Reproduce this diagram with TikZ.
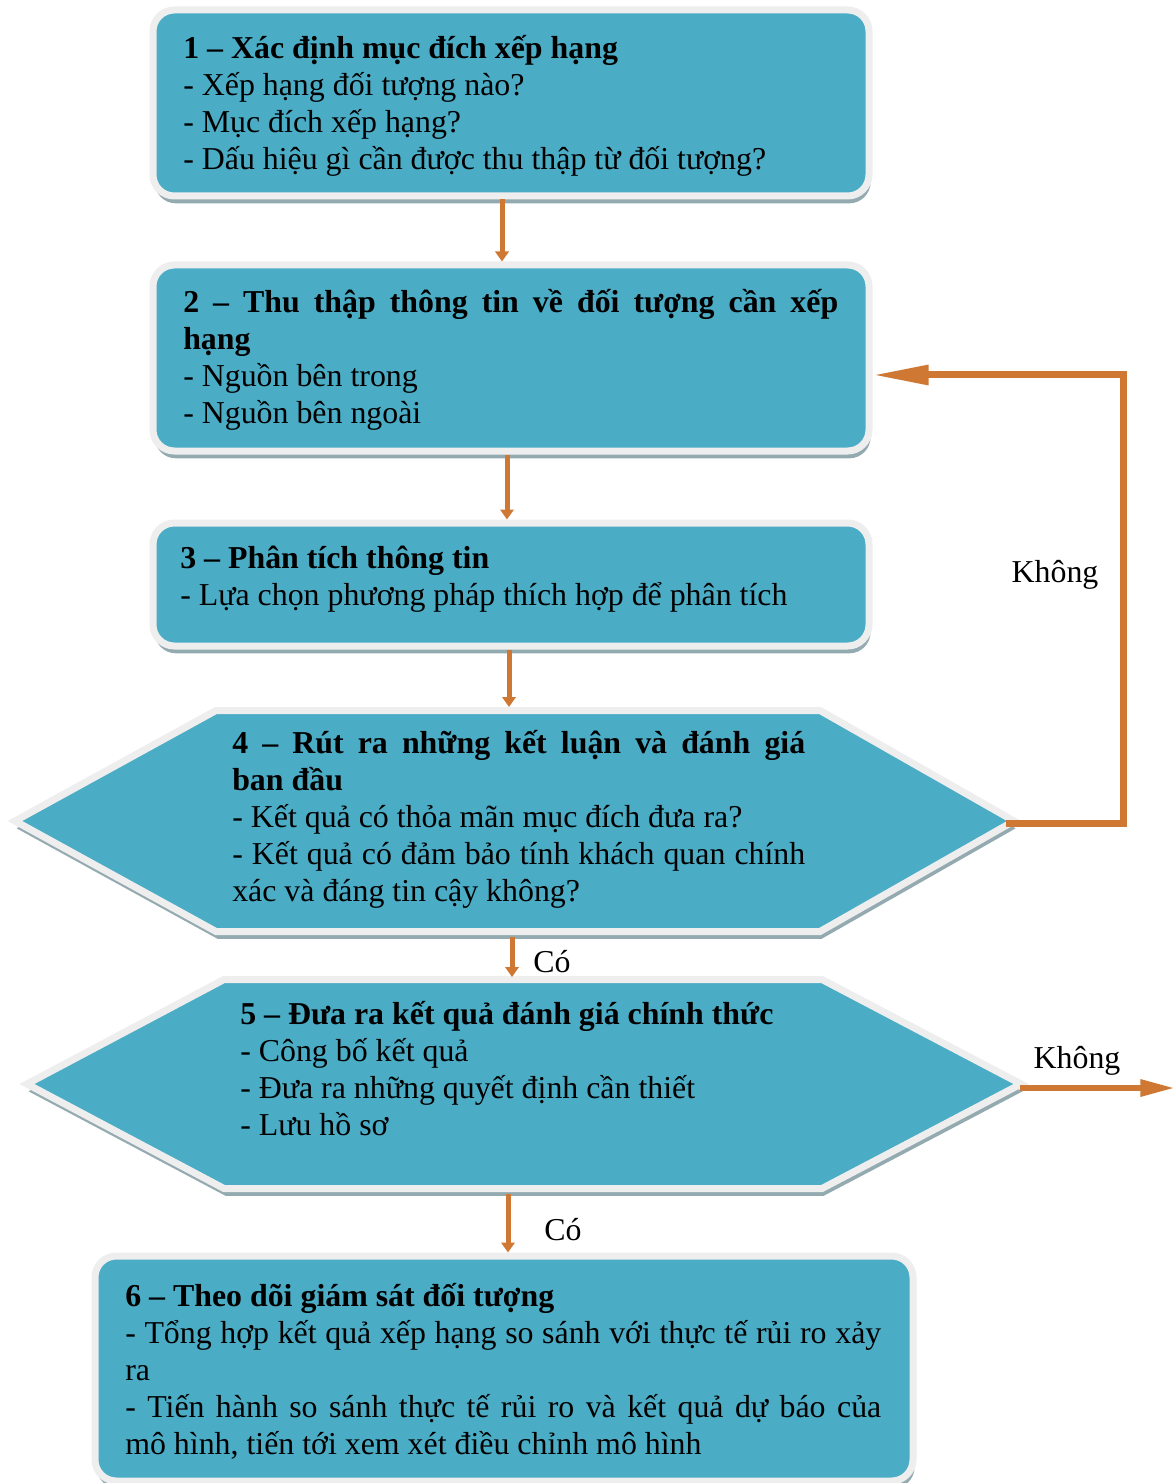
\documentclass[tikz,border=0pt]{standalone}
\usepackage{fontspec}
\setmainfont{Liberation Serif}
\usetikzlibrary{arrows.meta,shadows,calc}
\definecolor{tealf}{HTML}{4BACC6}
\definecolor{rim}{HTML}{EEEEEE}
\definecolor{shad}{HTML}{93AAB0}
\definecolor{arr}{HTML}{CF7833}
\newcommand\bxfont{\fontsize{23.9pt}{27.75pt}\selectfont\lineskiplimit=-100pt\lineskip=0pt\relax}
\newcommand\tstrut{\rule{0pt}{24pt}}
\newcommand\jl[2]{\makebox[#1][s]{#2}}
\begin{document}
\begin{tikzpicture}[x=0.75pt,y=-0.75pt,
  shadowed/.style={drop shadow={shadow xshift=1.2pt,shadow yshift=-5.5pt,fill=shad,opacity=1}},
  box/.style={draw=rim,line width=5.25pt,fill=tealf,rounded corners=16pt,inner sep=0pt,shadowed},
  hexa/.style={draw=rim,line width=5.25pt,fill=tealf,line join=miter,shadowed},
  txt/.style={anchor=north west,inner sep=0pt,font=\bxfont,align=left},
  lbl/.style={inner sep=0pt,font=\bxfont},
  down/.style={draw=arr,line width=3.75pt,-{Triangle[length=7.5pt,width=10pt]}},
  loopline/.style={draw=arr,line width=5.25pt,line join=miter,-{Triangle[length=42pt,width=14pt]}},
  exitline/.style={draw=arr,line width=4.5pt,-{Triangle[length=26pt,width=12pt]}}]
\useasboundingbox (0,0) rectangle (1175,1483);
\fill[white] (0,0) rectangle (1175,1483);

% rectangles
\node[box,minimum width=537pt,minimum height=139.5pt] (b1) at (511,103) {};
\node[box,minimum width=537pt,minimum height=139.5pt] (b2) at (511,358) {};
\node[box,minimum width=537pt,minimum height=92.25pt] (b3) at (511,584.5) {};
\node[box,minimum width=613.5pt,minimum height=168.75pt] (b6) at (504,1368.5) {};

% hexagons
\coordinate (h4L) at (15,821);   \coordinate (h4TL) at (216,710.5);
\coordinate (h4TR) at (820,710.5); \coordinate (h4R) at (1014,821);
\coordinate (h4BR) at (820,931.5); \coordinate (h4BL) at (216,931.5);
\path[hexa] (h4L) -- (h4TL) -- (h4TR) -- (h4R) -- (h4BR) -- (h4BL) -- cycle;
\coordinate (h5L) at (27,1084);   \coordinate (h5TL) at (224,979.5);
\coordinate (h5TR) at (822,979.5); \coordinate (h5R) at (1021,1084);
\coordinate (h5BR) at (822,1188.5); \coordinate (h5BL) at (224,1188.5);
\path[hexa] (h5L) -- (h5TL) -- (h5TR) -- (h5R) -- (h5BR) -- (h5BL) -- cycle;

% texts
\node[txt] (t1) at (183,26) {\tstrut\textbf{1 – Xác định mục đích xếp hạng}\\- Xếp hạng đối tượng nào?\\- Mục đích xếp hạng?\\- Dấu hiệu gì cần được thu thập từ đối tượng?};
\node[txt] (t2) at (183,280) {\tstrut\jl{491.25pt}{\textbf{2 – Thu thập thông tin về đối tượng cần xếp}}\\\textbf{hạng}\\- Nguồn bên trong\\- Nguồn bên ngoài};
\node[txt] (t3) at (180,536) {\tstrut\textbf{3 – Phân tích thông tin}\\- Lựa chọn phương pháp thích hợp để phân tích};
\node[txt] (t4) at (232,721) {\tstrut\jl{429.75pt}{\textbf{4 – Rút ra những kết luận và đánh giá}}\\\textbf{ban đầu}\\- Kết quả có thỏa mãn mục đích đưa ra?\\\jl{429.75pt}{- Kết quả có đảm bảo tính khách quan chính}\\xác và đáng tin cậy không?};
\node[txt] (t5) at (240,992) {\tstrut\textbf{5 – Đưa ra kết quả đánh giá chính thức}\\- Công bố kết quả\\- Đưa ra những quyết định cần thiết\\- Lưu hồ sơ};
\node[txt] (t6) at (125,1274) {\tstrut\textbf{6 – Theo dõi giám sát đối tượng}\\\jl{567pt}{- Tổng hợp kết quả xếp hạng so sánh với thực tế rủi ro xảy}\\ra\\\jl{567pt}{- Tiến hành so sánh thực tế rủi ro và kết quả dự báo của}\\mô hình, tiến tới xem xét điều chỉnh mô hình};

% connector end points on the hexagons
\coordinate (h4in) at (509,707);
\coordinate (h4out) at (512,937);
\coordinate (h5in) at (512,977);
\coordinate (h5out) at (508,1194);
\coordinate (h4tip) at (1006,823);
\coordinate (lp1) at (1123,823);
\coordinate (lp2) at (1123,375);
\coordinate (h5tip) at (1020,1088);
\coordinate (exitend) at (1175,1088);

% connectors
\draw[down] ($(b1.south)+(-9,0)$) -- ($(b2.north)+(-9,0)$);
\draw[down] ($(b2.south)+(-4,0)$) -- ($(b3.north)+(-4,0)$);
\draw[down] (b3.south -| h4in) -- (h4in);
\draw[down] (h4out) -- (h5in);
\draw[down] (h5out) -- (b6.north -| h5out);
\draw[loopline] (h4tip) -- (lp1) -- (lp2) -- (b2.east |- lp2);
\draw[exitline] (h5tip) -- (exitend);

% labels
\node[lbl] (k1) at (1055,575) {Không};
\node[lbl] (k2) at (1077,1061) {Không};
\node[lbl] (c1) at (552,962) {Có};
\node[lbl] (c2) at (563,1230) {Có};
\end{tikzpicture}
\end{document}
